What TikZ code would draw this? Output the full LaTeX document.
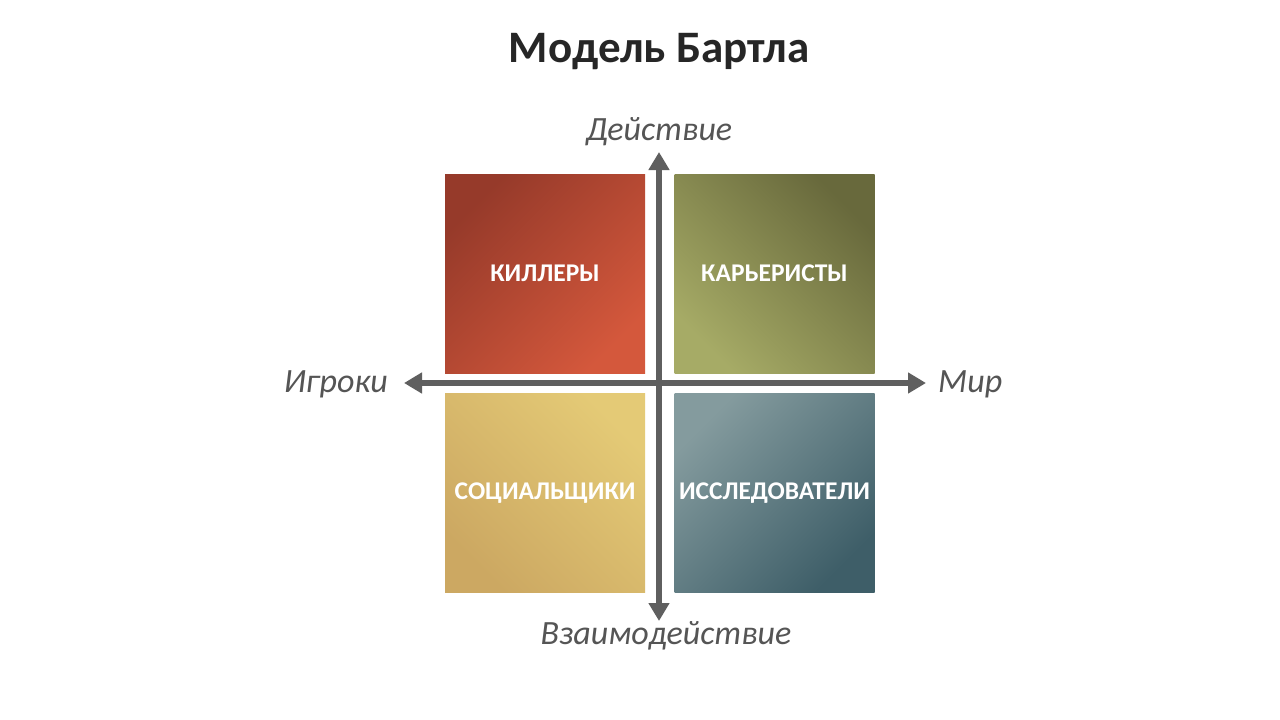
\documentclass[tikz,border=0pt]{standalone}
\usepackage{fontspec}
\setmainfont{Carlito}
\usetikzlibrary{arrows.meta, positioning}
\tikzset{>={Triangle[length=18pt,width=20pt]}}

\definecolor{axisgray}{HTML}{5F5F5F}
\definecolor{labelgray}{HTML}{555555}

\tikzset{
  quad/.style={minimum width=200pt, minimum height=199pt, inner sep=0pt,
    text=white, font=\fontsize{25.5}{28}\selectfont\bfseries},
  axislabel/.style={text=labelgray, font=\fontsize{34}{37}\selectfont\itshape},
}

\begin{document}
\begin{tikzpicture}[x=1pt,y=-1pt]
            \useasboundingbox[fill=white] (0,0) rectangle (1280,720);

            \node[font=\fontsize{45}{50}\selectfont\bfseries, text=black!85] (title) at (659,52) {Модель Бартла};

            \node[quad, top color={rgb,255:red,150;green,58;blue,42}, bottom color={rgb,255:red,212;green,88;blue,60}, shading angle=45] (killers) at (545,273.5) {КИЛЛЕРЫ};
            \node[quad, top color={rgb,255:red,104;green,105;blue,60}, bottom color={rgb,255:red,166;green,171;blue,102}, shading angle=-45] (achievers) at (774.5,273.5) {КАРЬЕРИСТЫ};
            \node[quad, top color={rgb,255:red,228;green,202;blue,118}, bottom color={rgb,255:red,204;green,168;blue,98}, shading angle=-45] (socializers) at (545,493) {СОЦИАЛЬЩИКИ};
            \node[quad, top color={rgb,255:red,132;green,155;blue,158}, bottom color={rgb,255:red,62;green,94;blue,104}, shading angle=45] (explorers) at (774.5,493) {ИССЛЕДОВАТЕЛИ};

            \coordinate (top) at (659,152);
            \coordinate (bottom) at (659,621);
            \coordinate (left) at (404,383);
            \coordinate (right) at (926,383);

            \draw[<->, line width=6pt, axisgray] (left) -- (right);
            \draw[<->, line width=6pt, axisgray] (bottom) -- (top);

            \node[axislabel] (action) at (659,132) {Действие};
            \node[axislabel] (interaction) at (666,636) {Взаимодействие};
            \node[axislabel, anchor=east, inner sep=0pt] (players) at (388,384) {Игроки};
            \node[axislabel, anchor=west, inner sep=0pt] (world) at (938,384) {Мир};
\end{tikzpicture}
\end{document}
